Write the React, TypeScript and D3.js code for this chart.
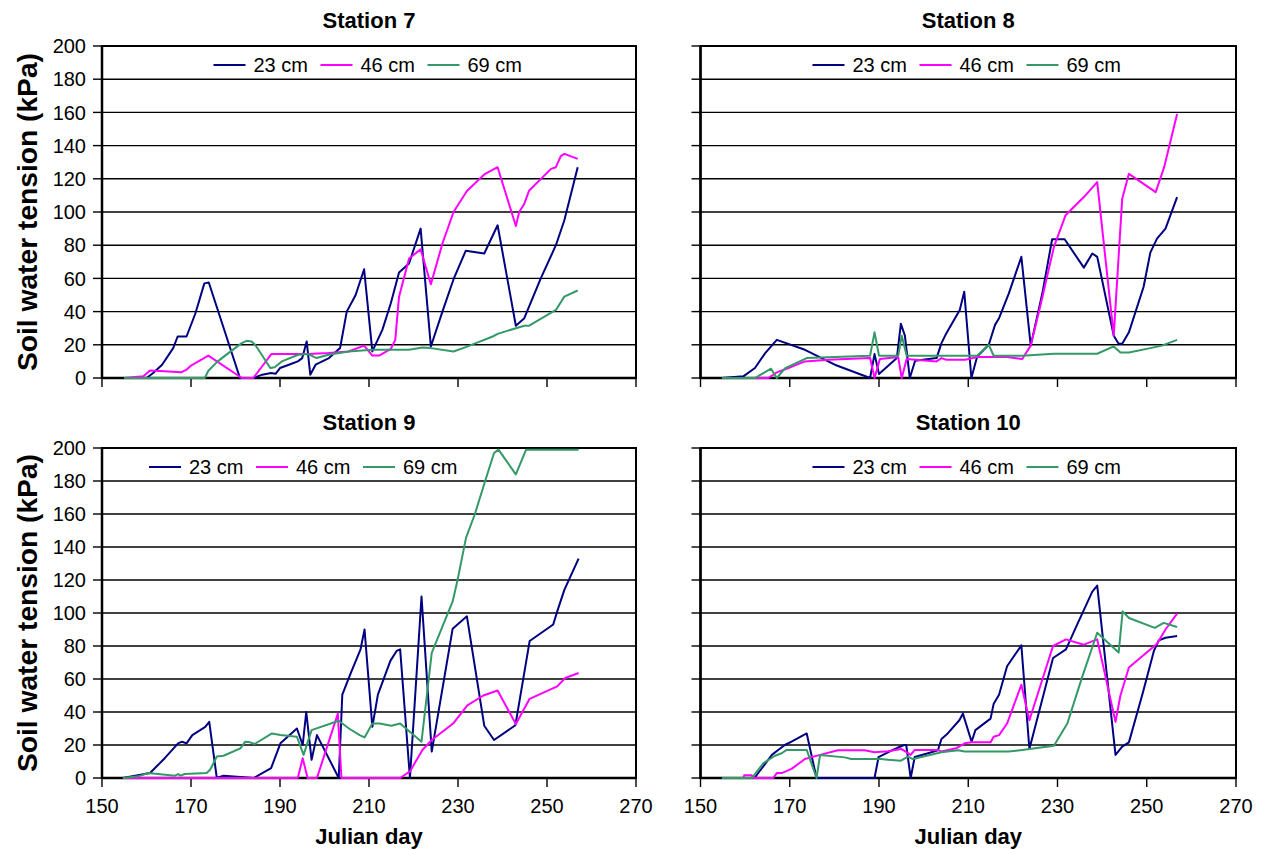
import * as d3 from "d3";
import { useMemo } from "react";

// soil water tension readings (Julian day, kPa)
const days = [150, 170, 190, 210, 230, 250, 270];
const kpaTicks = [0, 20, 40, 60, 80, 100, 120, 140, 160, 180, 200];
const depths = ["23 cm", "46 cm", "69 cm"];
const colores = ["#000080", "#FF00FF", "#339966"];

const st7_23 = [[155,0],[160,0],[161.5,3],[163.5,8],[166,18],[167,25],[169,25],[171,39],[173,57],[174,57.5],[181,0],[184,0],[186,2],[188,3],[189,2.5],[190,6],[192,8],[194,10],[195,12],[196,22],[196.8,2],[198,8],[201,12],[203.5,18],[205,40],[207,50],[208.9,65.5],[210.75,16],[213,29],[214.9,45],[216.75,63.5],[219,69],[221.6,90],[223.9,19],[226.5,40],[229,59.5],[231.75,76.7],[235.9,75],[238.9,92],[243,31.5],[244.9,36],[248.6,60],[252,80],[253.9,95],[256.9,127]];
const st7_46 = [[155,0],[159.3,1],[160.8,4.5],[164,4],[167.9,3.5],[169,5],[170,7.5],[173.9,13.5],[181.4,0],[184,0],[188.1,14.5],[196.4,14.5],[200.9,15],[205.4,16],[208.9,19.5],[210.75,13.5],[212.3,13.5],[214.9,17.5],[215.9,23],[216.75,49],[219,72],[221.6,77.5],[223.9,56.5],[226.5,81],[229,100],[232,112.6],[235.9,122.6],[238.9,127],[243,91.6],[243.75,100],[244.9,105],[246,113],[250.9,126],[252,127],[253.1,133.7],[253.9,135],[256.9,132]];
const st7_69 = [[155,0],[173.1,0],[173.9,4.4],[176,10],[178.4,15],[181.4,21],[182.5,22.4],[183.6,22],[184.4,20],[185.9,14],[187.8,6],[188.8,6.5],[190.4,10],[194.1,14],[196.4,14.4],[198.2,12],[200.9,14],[205.4,16],[210.75,17],[219,17],[222,18.4],[223.9,18],[229,16],[231.75,18.6],[234,21],[237.8,25],[238.9,26.6],[243,30],[244.9,31.5],[246,31.5],[252,41],[253.9,49],[256.9,52.7]];

const st8_23 = [[154.8,0],[159.6,1],[162.2,6],[164.5,15],[167.1,23],[173.4,17],[180.1,8],[188,0],[189,14.4],[190,2.4],[194,12],[194.9,32.7],[195.8,25.5],[196.9,0],[198.1,10.4],[202.9,12],[204,21],[205.1,27],[208.1,41],[209.1,52],[210.7,0],[212,13],[214.6,20],[216,32],[216.9,36],[219.1,51],[221.9,73],[224,19.5],[226.6,51],[228.8,83.6],[231.6,83.6],[235.9,66.5],[237.8,75],[238.9,73],[242.6,25.5],[243.7,20.6],[244.5,20.6],[246,27.5],[249.3,55],[250.8,75.5],[252.3,84],[254.2,90],[256.8,109]];
const st8_46 = [[154.8,0],[165.2,0],[167.1,3.4],[169.7,6],[173.4,10],[178.7,11],[188,12],[189,0],[190.2,11.4],[194.3,12.6],[195.1,0],[196.2,11.4],[202.9,10],[204,12],[205.1,11],[209.3,11],[212,12.6],[218.7,12.6],[222.1,11.4],[224,19.5],[226.2,44],[229.2,79],[231.8,98],[235.9,109],[238.9,118],[242.6,25.5],[244.5,108],[246,123],[252,112],[253.9,127],[256.8,159]];
const st8_69 = [[154.8,0],[162.2,0],[165.8,5.6],[167.1,0],[169,6],[173.8,12],[188,13.4],[189,27.5],[190,13.4],[194.3,13.4],[195.1,25.5],[196.2,13.4],[209.3,13.4],[212,13.4],[214.6,20],[215.7,13.4],[222.1,13.4],[229.2,14.6],[238.9,14.6],[242.6,19],[244.1,15.4],[246,15.4],[250.8,18],[253.4,19.5],[256.8,23]];

const st9_23 = [[154.7,0],[160.8,3],[164.1,12],[167.1,21],[168,22],[169,21],[170.3,26],[173.2,31],[174.1,34],[175.8,0],[177.3,1.4],[184.1,0],[188,6],[190.1,21],[193.8,30],[195.1,20],[195.9,40],[197.1,11],[198.3,26],[203.2,0],[204,50.5],[205.9,63.6],[208.1,78],[209,90],[210.75,31],[212,50.5],[214.8,71],[216.2,77],[217,78],[219.2,0],[221.8,110],[224.1,16],[228.8,90.5],[232,98],[235.9,31.7],[238.1,23],[242.9,32],[246.1,83],[251.4,93],[252.3,101],[253.9,114],[257.1,133]];
const st9_46 = [[154.7,0],[194,0],[195.1,12],[196.2,0],[198.3,0],[203,39],[203.8,0],[217,0],[219.2,4],[222,17],[224.1,23],[228.9,33],[232.1,44],[235.7,50],[238.9,53],[243,32.7],[246.1,48],[252.3,55.5],[254.1,60.6],[257.1,63.6]];
const st9_69 = [[154.7,0],[158.1,1],[160.4,3],[166.4,1.4],[167.1,2.4],[167.7,1.4],[168.6,2.4],[173.5,3],[174.3,5],[175.8,13],[177.3,13.5],[181.1,18],[182.2,22],[183.3,21.6],[184.3,20.6],[188.2,27],[190.1,26],[193.8,25],[195.3,14],[197.1,29],[203.2,34.7],[205.5,30],[207.9,26],[209,24.6],[210.75,33],[212.4,33],[215,31.7],[217,33],[221.8,22],[224.1,75.8],[228.8,107],[229.9,120],[231.8,145.5],[233.8,160],[236.1,180],[238.1,197],[239.1,199],[243,184],[245.3,199],[257.1,199]];

const st10_23 = [[154.8,0],[162.1,0],[166,14],[167.4,17],[168.9,20],[170.4,22],[173.8,27],[176,0],[189,0],[189.9,12.7],[193.1,17],[195.6,20],[196.1,20],[197.1,0],[198,12.7],[201,15],[203.2,16.8],[204,23.6],[205.4,27],[208,35],[208.8,39],[210.75,22],[211.6,29],[215,36],[215.7,45],[216.9,50.5],[218.7,67.7],[221.9,80.4],[223.7,17.6],[229,72.7],[231.9,78],[234.4,93],[237.8,113],[238.9,116.6],[243,14],[244.5,19],[246,21.6],[249,50.5],[251.6,77],[252.7,83.4],[254.2,85],[256.8,86]];
const st10_46 = [[154.8,0],[159.6,0],[159.8,1.6],[161.5,1.6],[161.8,0],[166.3,0],[167.1,3],[168.2,3],[170.4,5.5],[173.4,11.5],[176.8,14],[180.8,16.8],[186.8,16.8],[189,15.6],[192,16.2],[195,17.6],[197.1,14],[198,17],[203.2,17],[204,16],[207.3,18],[209.2,21],[210.75,21.6],[215,21.6],[215.7,25],[216.9,26],[218.7,33],[221.9,56.5],[223.7,35],[229,80],[231.9,84],[235.9,80.8],[238.9,84],[243,34],[244.1,50],[246,67],[252.3,81.4],[254.2,90],[256.8,99.6]];
const st10_69 = [[154.8,0],[161.5,0],[164.1,9],[166.7,13.5],[168.2,15],[169.3,17],[173.8,17],[176,0],[176.8,14],[182.3,12.5],[183.8,11.5],[190.5,11.5],[192,11],[194.9,10.5],[196.5,13],[197.6,11.5],[204,15.6],[207.7,16.8],[209.2,16],[219.1,16],[222.1,17],[229.2,19.6],[232.2,33],[235.5,61],[238.9,88],[243.7,76],[244.6,101],[246,97],[251.8,91],[253.8,94],[256.8,91.5]];

const fuente = "'Liberation Sans', Arial, sans-serif";

const Panel = ({ titulo, series, x0, x1, y0, y1, etiquetasY, etiquetasX, centroLeyenda }) => {
  const escalaX = useMemo(() => d3.scaleLinear().domain([150, 270]).range([x0, x1]), [x0, x1]);
  const escalaY = useMemo(() => d3.scaleLinear().domain([0, 200]).range([y1, y0]), [y0, y1]);

  const linea = d3
    .line()
    .x((d) => escalaX(d[0]))
    .y((d) => escalaY(d[1]));

  const centro = (x0 + x1) / 2;
  const inicioLeyenda = centroLeyenda - 155.5;

  return (
    <g>
      {/* titulo del panel */}
      <text x={centro} y={y0 - 18} textAnchor="middle" fontSize={22} fontWeight="bold" fontFamily={fuente}>
        {titulo}
      </text>

      {/* lineas de grilla */}
      {kpaTicks.map((v) => (
        <line key={v} x1={x0} x2={x1} y1={escalaY(v)} y2={escalaY(v)} stroke="#000" strokeWidth={1.4} />
      ))}

      {/* ticks eje Y */}
      {kpaTicks.map((v) => (
        <g key={"y" + v}>
          <line x1={x0 - 9} x2={x0} y1={escalaY(v)} y2={escalaY(v)} stroke="#000" strokeWidth={1.4} />
          {etiquetasY && (
            <text x={x0 - 16} y={escalaY(v)} dy="0.36em" textAnchor="end" fontSize={20} fontFamily={fuente}>
              {v}
            </text>
          )}
        </g>
      ))}

      {/* ticks eje X */}
      {days.map((d) => (
        <g key={"x" + d}>
          <line x1={escalaX(d)} x2={escalaX(d)} y1={y1} y2={y1 + 9} stroke="#000" strokeWidth={1.4} />
          {etiquetasX && (
            <text x={escalaX(d)} y={y1 + 35} textAnchor="middle" fontSize={20} fontFamily={fuente}>
              {d}
            </text>
          )}
        </g>
      ))}

      {/* borde y ejes */}
      <rect x={x0} y={y0} width={x1 - x0} height={y1 - y0} fill="none" stroke="#000" strokeWidth={2} />
      <line x1={x0} x2={x0} y1={y0} y2={y1 + 1} stroke="#000" strokeWidth={2.5} />
      <line x1={x0} x2={x1} y1={y1} y2={y1} stroke="#000" strokeWidth={2.5} />

      {/* series, encima de los ejes como en el original */}
      {series.map((s, i) => (
        <path key={i} d={linea(s)} fill="none" stroke={colores[i]} strokeWidth={2} strokeLinejoin="round" />
      ))}

      {/* leyenda */}
      {depths.map((nombre, i) => {
        const lx = inicioLeyenda + i * 107;
        const ly = y0 + 19;
        return (
          <g key={nombre}>
            <line x1={lx} x2={lx + 32} y1={ly} y2={ly} stroke={colores[i]} strokeWidth={2} />
            <text x={lx + 40} y={ly} dy="0.36em" fontSize={20} fontFamily={fuente}>
              {nombre}
            </text>
          </g>
        );
      })}

      {etiquetasX && (
        <text x={centro} y={844} textAnchor="middle" fontSize={22} fontWeight="bold" fontFamily={fuente}>
          Julian day
        </text>
      )}

      {etiquetasY && (
        <text
          transform={`translate(37,${(y0 + y1) / 2}) rotate(-90)`}
          textAnchor="middle"
          fontSize={28}
          fontWeight="bold"
          fontFamily={"'Liberation Sans Narrow', 'Arial Narrow', " + fuente}
          textLength={318}
          lengthAdjust="spacingAndGlyphs"
        >
          Soil water tension (kPa)
        </text>
      )}
    </g>
  );
};

export default function App() {
  return (
    <svg
      width={1262}
      height={850}
      style={{ position: "absolute", left: 0, top: 0, background: "#fff" }}
    >
      <Panel titulo="Station 7" series={[st7_23, st7_46, st7_69]} x0={102} x1={636} y0={46} y1={378} etiquetasY={true} etiquetasX={false} centroLeyenda={369} />
      <Panel titulo="Station 8" series={[st8_23, st8_46, st8_69]} x0={700.5} x1={1236} y0={46} y1={378} etiquetasY={false} etiquetasX={false} centroLeyenda={968} />
      <Panel titulo="Station 9" series={[st9_23, st9_46, st9_69]} x0={102} x1={636} y0={448} y1={778} etiquetasY={true} etiquetasX={true} centroLeyenda={304.5} />
      <Panel titulo="Station 10" series={[st10_23, st10_46, st10_69]} x0={700.5} x1={1236} y0={448} y1={778} etiquetasY={false} etiquetasX={true} centroLeyenda={968} />
    </svg>
  );
}
